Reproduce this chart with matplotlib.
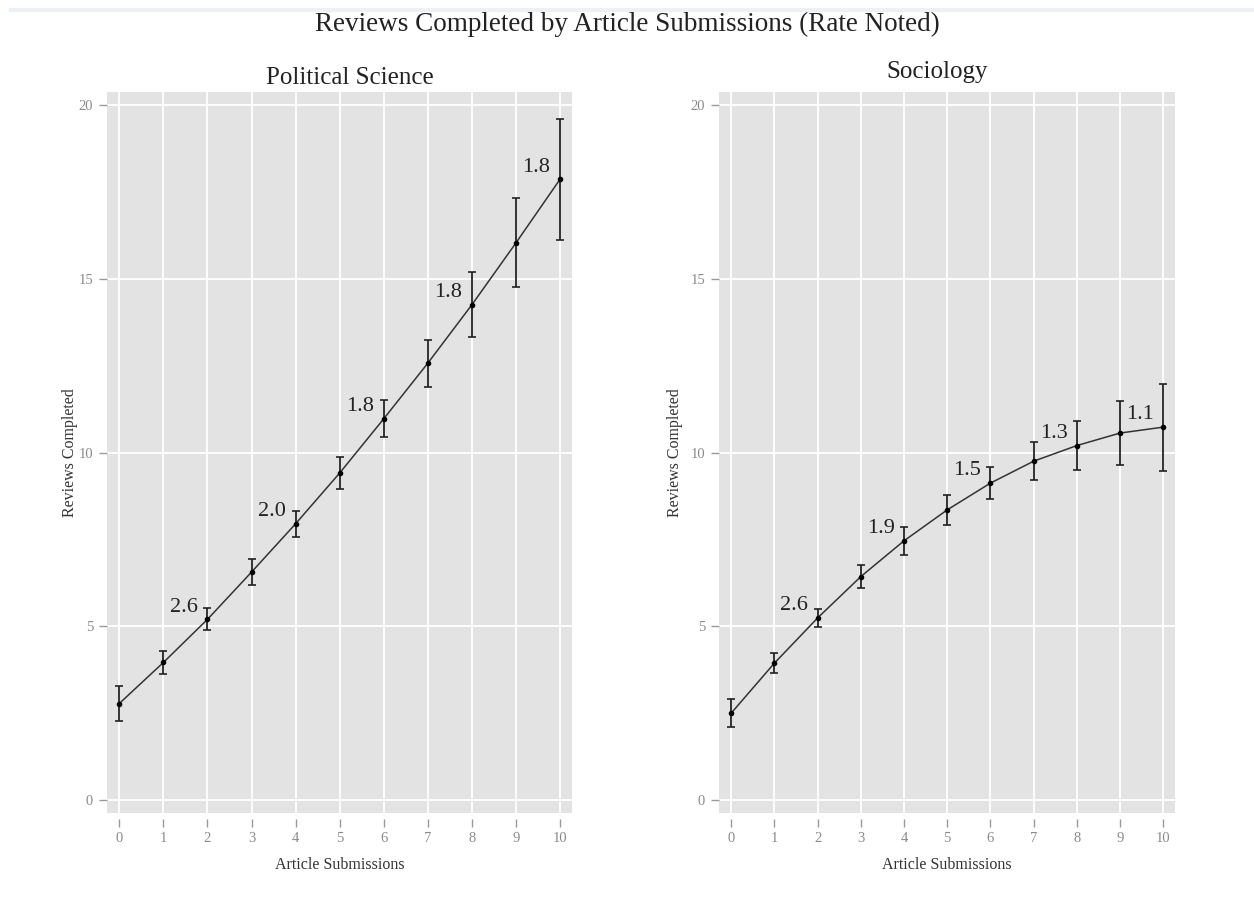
import matplotlib
matplotlib.use('Agg')
import matplotlib.pyplot as plt
from matplotlib.lines import Line2D
import numpy as np

plt.rcParams['font.family'] = ['Liberation Serif', 'DejaVu Serif']

# data
submissions = np.arange(0, 11)
polsci_mean = [2.78, 3.96, 5.20, 6.56, 7.95, 9.41, 10.97, 12.57, 14.25, 16.03, 17.86]
polsci_err = [0.50, 0.33, 0.32, 0.38, 0.37, 0.45, 0.53, 0.68, 0.94, 1.28, 1.74]
soc_mean = [2.50, 3.94, 5.24, 6.43, 7.46, 8.35, 9.12, 9.75, 10.20, 10.56, 10.73]
soc_err = [0.40, 0.28, 0.27, 0.32, 0.40, 0.43, 0.47, 0.55, 0.71, 0.93, 1.25]
rate_at = [2, 4, 6, 8, 10]
polsci_rate = ['2.6', '2.0', '1.8', '1.8', '1.8']
soc_rate = ['2.6', '1.9', '1.5', '1.3', '1.1']

fig = plt.figure(figsize=(12.54, 9.09), dpi=100)
ax1 = fig.add_axes([0.0853, 0.1056, 0.3708, 0.7932])
ax2 = fig.add_axes([0.5734, 0.1056, 0.3636, 0.7932])

# faint rule along the top edge
fig.add_artist(Line2D([0.009, 1.0], [0.9895, 0.9895], color='#edf0f4', lw=3))

fig.text(0.5, 0.9735, 'Reviews Completed by Article Submissions (Rate Noted)',
         ha='center', va='center', fontsize=19.5, color='#222222')

def panel(ax, title, title_x, title_pad, mean, err, rates, ypad):
    ax.set_facecolor('#e3e3e3')
    for s in ax.spines.values():
        s.set_visible(False)
    ax.spines['bottom'].set_position(('outward', 4))
    ax.set_axisbelow(True)
    ax.grid(True, color='white', lw=1.3)
    ax.plot(submissions, mean, color='#333333', lw=1.1, zorder=2)
    ax.errorbar(submissions, mean, yerr=err, fmt='o', ms=3, color='black',
                ecolor='#222222', elinewidth=1.3, capsize=3, capthick=1.2, zorder=3)
    for xi, r in zip(rate_at, rates):
        ax.text(xi - 0.22, mean[xi] + 0.35, r, ha='right', va='center',
                fontsize=16, color='#222222')
    ax.set_xlim(-0.28, 10.27)
    ax.set_ylim(-0.37, 20.37)
    ax.set_xticks(range(0, 11))
    ax.set_yticks([0, 5, 10, 15, 20])
    ax.tick_params(colors='#999999', labelsize=10.5, length=6, width=1, pad=4)
    ax.tick_params(labelcolor='#8a8a8a')
    ax.set_title(title, fontsize=18, color='#222222', pad=title_pad, x=title_x)
    ax.set_xlabel('Article Submissions', fontsize=11.5, color='#333333', labelpad=8)
    ax.set_ylabel('Reviews Completed', fontsize=11.5, color='#333333', labelpad=ypad)

panel(ax1, 'Political Science', 0.523, 6, polsci_mean, polsci_err, polsci_rate, 0)
panel(ax2, 'Sociology', 0.478, 10, soc_mean, soc_err, soc_rate, 5)

fig.savefig('out.png', dpi=100, facecolor='white')
